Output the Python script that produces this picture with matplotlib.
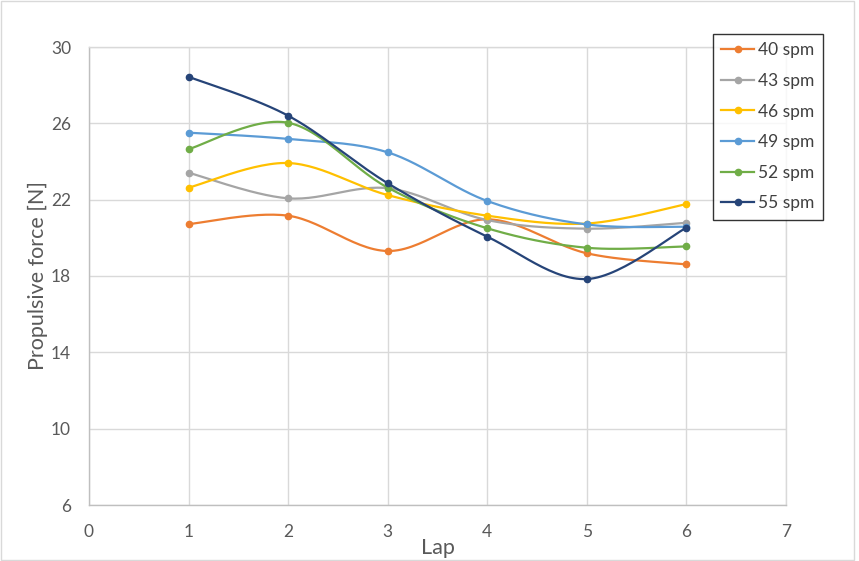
import numpy as np
import matplotlib
matplotlib.use("Agg")
import matplotlib.pyplot as plt
from matplotlib.patches import Rectangle

plt.rcParams["font.family"] = ["Lato", "DejaVu Sans"]

laps = [1, 2, 3, 4, 5, 6]
labels = ["40 spm", "43 spm", "46 spm", "49 spm", "52 spm", "55 spm"]
f40 = [20.72, 21.16, 19.31, 20.97, 19.19, 18.61]
f43 = [23.41, 22.07, 22.60, 20.93, 20.48, 20.79]
f46 = [22.63, 23.92, 22.24, 21.16, 20.75, 21.77]
f49 = [25.51, 25.18, 24.48, 21.93, 20.70, 20.58]
f52 = [24.65, 26.03, 22.63, 20.50, 19.48, 19.55]
f55 = [28.44, 26.40, 22.86, 20.06, 17.84, 20.53]
series = [f40, f43, f46, f49, f52, f55]
colors = ["#ED7D31", "#A5A5A5", "#FFC000", "#5B9BD5", "#70AD47", "#264478"]


def smooth(x, y, n=30):
    # excel style smoothed line: bezier segments with catmull-rom handles
    p = np.column_stack([x, y]).astype(float)
    p = np.vstack([p[0], p, p[-1]])
    out = []
    t = np.linspace(0, 1, n)[:, None]
    for i in range(1, len(p) - 2):
        p0, p1, p2, p3 = p[i - 1], p[i], p[i + 1], p[i + 2]
        c1 = p1 + (p2 - p0) / 6
        c2 = p2 - (p3 - p1) / 6
        seg = ((1 - t) ** 3 * p1 + 3 * (1 - t) ** 2 * t * c1
               + 3 * (1 - t) * t ** 2 * c2 + t ** 3 * p2)
        out.append(seg if i == 1 else seg[1:])
    out = np.vstack(out)
    return out[:, 0], out[:, 1]


fig = plt.figure(figsize=(8.59, 5.61), dpi=100)
ax = fig.add_axes([89 / 859, 56 / 561, 697 / 859, 458 / 561])

fig.patches.append(Rectangle((0.0008, 0.002), 853.5 / 859, 558.5 / 561,
                             transform=fig.transFigure, fill=False,
                             edgecolor="#d9d9d9", linewidth=1.0))

for ys, lab, c in zip(series, labels, colors):
    sx, sy = smooth(laps, ys)
    ax.plot(sx, sy, color=c, linewidth=1.6, solid_capstyle="round")
    ax.plot(laps, ys, linestyle="none", marker="o", markersize=4.5, color=c)
    ax.plot([], [], color=c, linewidth=1.6, marker="o", markersize=4.5, label=lab)

ax.set_xlim(0, 7)
ax.set_ylim(6, 30)
ax.set_xticks(range(0, 8))
ax.set_yticks(range(6, 31, 4))
ax.grid(True, color="#d9d9d9", linewidth=1.0)
ax.set_axisbelow(True)
for side in ["top", "right"]:
    ax.spines[side].set_color("#d9d9d9")
for side in ["left", "bottom"]:
    ax.spines[side].set_color("#bfbfbf")
for sp in ax.spines.values():
    sp.set_linewidth(1.0)
ax.tick_params(length=0, labelsize=12.5, colors="#595959", pad=13)
ax.tick_params(axis="x", pad=14)
ax.set_xlabel("Lap", fontsize=15.5, color="#595959", labelpad=-2)
ax.set_ylabel("Propulsive force [N]", fontsize=15.5, color="#595959", labelpad=2)

leg = ax.legend(loc="upper left", bbox_to_anchor=(713 / 859, 527 / 561),
                bbox_transform=fig.transFigure, frameon=True, fancybox=False,
                fontsize=12.5, labelspacing=0.84, handlelength=1.9,
                handletextpad=0.2, borderpad=0.48, borderaxespad=0)
leg.get_frame().set_edgecolor("#000000")
leg.get_frame().set_linewidth(1.0)
for t in leg.get_texts():
    t.set_color("#404040")

fig.savefig("out.png", dpi=100)
